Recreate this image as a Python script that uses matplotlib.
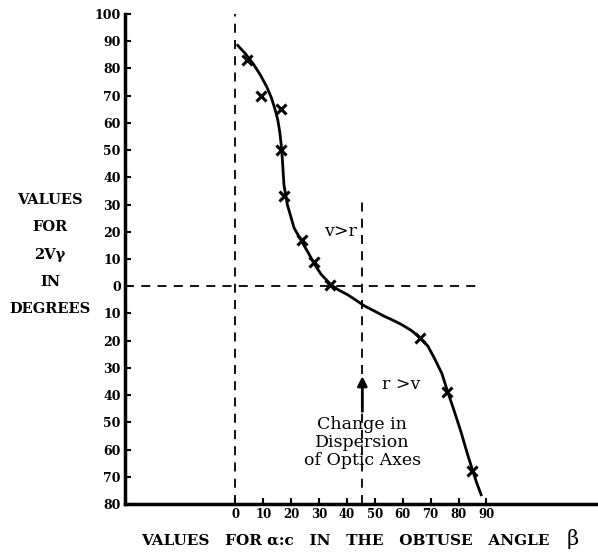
import matplotlib
matplotlib.use("Agg")
import matplotlib.pyplot as plt

# observed points (x marks): angle alpha:c vs 2V (negative = below the 0 line)
obs_x = [4, 9, 16.5, 16.5, 17.5, 24, 28, 34, 66, 76, 85]
obs_y = [83, 70, 65, 50, 33, 17, 9, 0.5, -19, -39, -68]

# hand drawn curve
curve_x = [0.8, 3.5, 6.5, 9.0, 11.2, 12.9, 14.2, 15.2, 15.9, 16.4, 16.8, 17.1, 17.4,
           18.6, 21, 24, 26, 28, 30.6, 34.2, 37, 40.2, 43, 46.2, 50, 53.3, 56.5,
           59.4, 63, 66, 69, 71.3, 74, 76.1, 78.5, 80.9, 83, 85.1, 86.6, 88.1]
curve_y = [88.5, 85.5, 81.5, 77.5, 73.3, 69.2, 65, 61, 56.6, 52, 47, 42, 37.2,
           30, 21.5, 16, 12.5, 8.7, 4.5, 0.6, -1.4, -3.1, -5.0, -7.2, -9.2, -11, -12.5,
           -14, -16.2, -18.7, -22, -26.4, -32, -38.8, -46, -53.6, -61, -67.9, -72.5, -76.6]

yticks = list(range(-80, 101, 10))
ytick_labels = [str(abs(v)) for v in yticks]
xticks = list(range(0, 91, 10))
xtick_labels = [str(v) for v in xticks]

plt.rcParams['font.family'] = ['DejaVu Serif']
plt.rcParams['font.weight'] = 'bold'

fig = plt.figure(figsize=(5.98, 5.52), dpi=100)
ax = fig.add_axes([125 / 598, 48 / 552, 1 - 125 / 598, 490 / 552])
ax.set_xlim(-39.6, 130)
ax.set_ylim(-80, 100)

for s in ['top', 'right']:
    ax.spines[s].set_visible(False)
ax.spines['left'].set_linewidth(2.5)
ax.spines['bottom'].set_linewidth(2.5)

ax.set_yticks(yticks)
ax.set_yticklabels(ytick_labels, fontsize=9, fontweight='bold')
ax.set_xticks(xticks)
ax.set_xticklabels(xtick_labels, fontsize=8.5, fontweight='bold')
ax.tick_params(direction='in', length=4, width=1.5, pad=3)

dash = dict(color='black', lw=1.3, ls=(0, (5, 4)))
ax.plot([0, 0], [-80, 100], **dash)
ax.plot([-39.6, 88], [0, 0], **dash)
ax.plot([45.5, 45.5], [-80, 31], **dash)

ax.plot(curve_x, curve_y, color='black', lw=2)
ax.plot(obs_x, obs_y, 'x', color='black', ms=7.5, mew=2.2)

ax.annotate('', xy=(45.5, -32), xytext=(45.5, -47),
            arrowprops=dict(arrowstyle='-|>', color='black', lw=2, mutation_scale=14))

ax.text(37.5, 20, 'v>r', fontsize=12.5, fontweight='normal', ha='center', va='center')
ax.text(59.5, -36, 'r >v', fontsize=12.5, fontweight='normal', ha='center', va='center')
ax.text(45.5, -57.5, 'Change in\nDispersion\nof Optic Axes', fontsize=12.5,
        fontweight='normal', ha='center', va='center', linespacing=1.08)

for label, ypx in zip(['VALUES', 'FOR', '2Vγ', 'IN', 'DEGREES'], [200, 227, 255, 282, 309]):
    fig.text(50 / 598, 1 - ypx / 552, label, fontsize=10.5, fontweight='bold',
             ha='center', va='center')

fig.text(345 / 598, 1 - 541 / 552,
         'VALUES   FOR α:c   IN   THE   OBTUSE   ANGLE',
         fontsize=11, fontweight='bold', ha='center', va='center')
fig.text(573 / 598, 1 - 539 / 552, 'β', fontsize=15, fontweight='normal',
         ha='center', va='center')

fig.savefig('out.png', dpi=100)
